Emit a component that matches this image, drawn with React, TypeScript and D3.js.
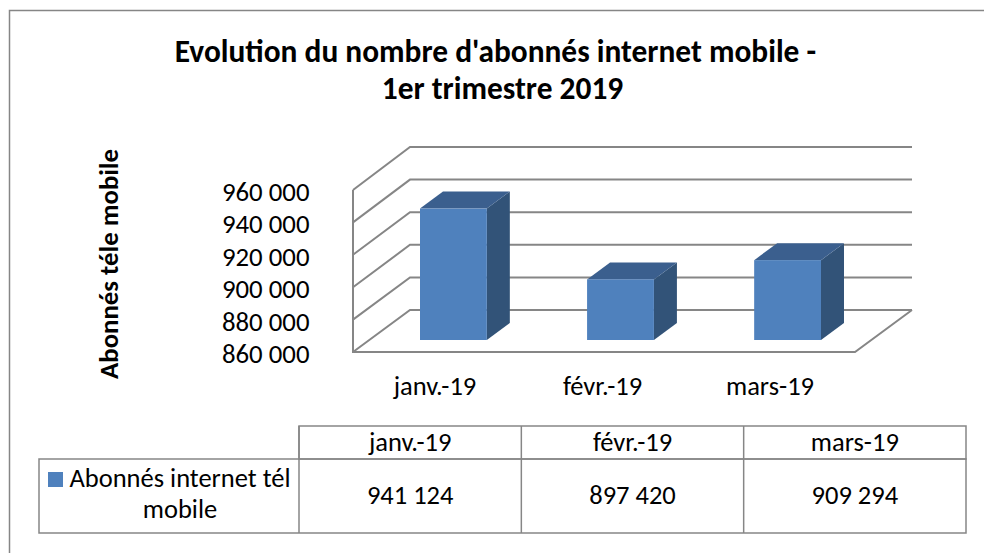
import React from 'react';
import * as d3 from 'd3';

const months = ['janv.-19', 'févr.-19', 'mars-19'];
const subscribers = [941124, 897420, 909294];
const yTicks = [860000, 880000, 900000, 920000, 940000, 960000];
const titleLines = ["Evolution du nombre d'abonnés internet mobile -", '1er trimestre 2019'];
const yAxisTitle = 'Abonnés téle mobile';
const seriesLines = ['Abonnés internet tél', 'mobile'];

const W = 984;
const H = 553;
const font = 'Carlito, Calibri, "Open Sans", "Noto Sans", sans-serif';
const grey = '#868686';
const depth = { bar: [23, -17] };

const frontY = d3.scaleLinear().domain([860000, 960000]).range([352, 190]);
const wallY = d3.scaleLinear().domain([860000, 960000]).range([310, 147]);
const barY = d3.scaleLinear().domain([860000, 960000]).range([340, 178]);
const barX = d3.scaleBand<string>().domain(months).range([420, 821]).paddingInner(0.6).paddingOuter(0);
const labelX = d3.scalePoint<string>().domain(months).range([435, 770]);
const tableX = d3.scaleBand<string>().domain(months).range([299, 966]);
const fmt = (v: number) => d3.format(',')(v).replace(/,/g, ' ');

export default function App() {
  return (
    <svg width={W} height={H} style={{ position: 'absolute', left: 0, top: 0, background: '#fff' }} fontFamily={font} fill="#000">
      {/* only the top and left of the chart frame are in the picture */}
      <path d={`M9.5,${H}V10.5H${W}`} fill="none" stroke={grey} strokeWidth={1.5} />
      {titleLines.map((t, i) => (
        <text key={t} x={i === 0 ? 495.5 : 502.5} y={62 + i * 37} fontSize={31.4} fontWeight={700} textAnchor="middle">{t}</text>
      ))}
      <text transform="translate(118,264) rotate(-90)" fontSize={26.8} fontWeight={700} textAnchor="middle">{yAxisTitle}</text>

      {/* walls and floor */}
      <path d={`M353,${frontY(960000)}V352H855L912,310`} fill="none" stroke={grey} strokeWidth={2} />
      {yTicks.map(t => (
        <g key={t}>
          <polyline
            points={`353,${frontY(t)} 410,${wallY(t)} 912,${wallY(t)}`}
            fill="none" stroke={grey} strokeWidth={2}
          />
          <text x={309.5} y={frontY(t) + 11} fontSize={26.8} textAnchor="end">{fmt(t)}</text>
        </g>
      ))}

      {/* bars */}
      {months.map((m, i) => {
        const x = barX(m)!;
        const w = barX.bandwidth();
        const top = barY(subscribers[i]);
        const [dx, dy] = depth.bar;
        return (
          <g key={m}>
            <path d={`M${x + w},${top}l${dx},${dy}V${340 + dy}l${-dx},${-dy}Z`} fill="#325378" />
            <path d={`M${x},${top}l${dx},${dy}h${w}l${-dx},${-dy}Z`} fill="#3b5f8e" />
            <rect x={x} y={top} width={w} height={340 - top} fill="#4f81bd" />
            <text x={labelX(m)} y={395} fontSize={26.5} textAnchor="middle">{m}</text>
          </g>
        );
      })}

      {/* data table */}
      <g fill="none" stroke={grey} strokeWidth={1.5}>
        <rect x={299} y={426} width={667} height={33} />
        <rect x={39} y={459} width={927} height={74} />
        {months.map(m => (
          <line key={m} x1={tableX(m)} x2={tableX(m)} y1={426} y2={533} />
        ))}
      </g>
      {months.map((m, i) => (
        <g key={m} fontSize={26.5} textAnchor="middle">
          <text x={tableX(m)! + tableX.bandwidth() / 2} y={451}>{m}</text>
          <text x={tableX(m)! + tableX.bandwidth() / 2} y={504}>{fmt(subscribers[i])}</text>
        </g>
      ))}
      <rect x={48} y={472} width={15} height={15} fill="#4f81bd" />
      <text x={180} y={487} fontSize={26.5} textAnchor="middle">{seriesLines[0]}</text>
      <text x={180} y={518} fontSize={26.5} textAnchor="middle">{seriesLines[1]}</text>
    </svg>
  );
}
